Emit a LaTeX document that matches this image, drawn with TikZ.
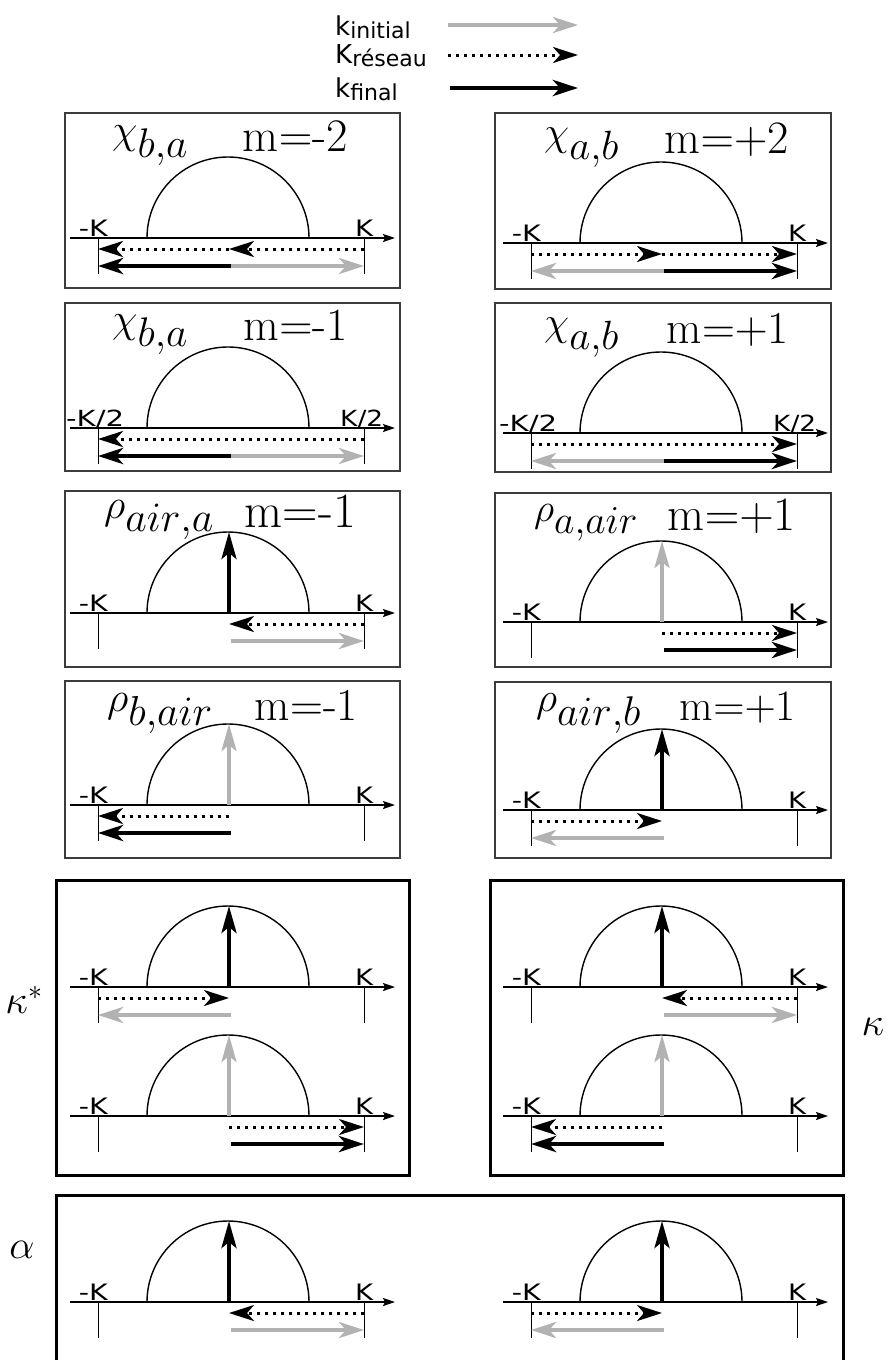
\RequirePackage{fix-cm}
\documentclass[tikz,border=0pt]{standalone}
\usepackage{fontspec}
\newfontfamily\dv{DejaVu Sans}
\usetikzlibrary{arrows.meta}
\definecolor{lg}{RGB}{178,178,178}
\definecolor{boxc}{RGB}{60,60,60}
\newcommand\mneg[1]{$\mathrm{m}{=}\mathchar"002D\mathrm{#1}$}
\newcommand\mpos[1]{$\mathrm{m}{=}{+}\mathrm{#1}$}
\newcommand\tw[2]{\resizebox{#1pt}{!}{#2}}
\newcommand\kb[2]{\resizebox{#1pt}{16.5pt}{#2}}
\newcommand\panelbase{%
  \coordinate (-C) at (0,0);
  \coordinate (-L) at (-131,0); \coordinate (-R) at (135,0);
  \coordinate (-T) at (0,-81);
  \coordinate (-Ld) at (-131,11); \coordinate (-Cd) at (0,11); \coordinate (-Rd) at (135,11);
  \coordinate (-Ls) at (-131,28); \coordinate (-Cs) at (2,28); \coordinate (-Rs) at (135,28);
  \coordinate (-a) at (-159,0); \coordinate (-b) at (166,0);
  \coordinate (-Lb) at (-131,36); \coordinate (-Rb) at (135,36);
  \draw[axisline] (-a) -- (-b);
  \draw[arcsty] (-82,0) arc[start angle=180,end angle=360,radius=81];
  \draw[ticksty] (-L) -- (-Lb);
  \draw[ticksty] (-R) -- (-Rb);
}
\begin{document}
\begin{tikzpicture}[x=1pt,y=-1pt,
  axisline/.style={line width=1.8pt,-{Stealth[length=12pt,width=8pt,inset=2pt]}},
  arcsty/.style={line width=1.4pt},
  ticksty/.style={line width=0.9pt},
  headsty/.style={-{Stealth[length=25pt,width=16pt,inset=7pt]}},
  dotarr/.style={headsty,line width=3pt,dash pattern=on 3pt off 5pt},
  grayarr/.style={headsty,line width=4pt,draw=lg,fill=lg},
  blackarr/.style={headsty,line width=4.5pt},
  vblack/.style={line width=4pt,-{Stealth[length=27pt,width=15pt,inset=6pt]}},
  vgray/.style={line width=3.5pt,draw=lg,fill=lg,-{Stealth[length=27pt,width=15pt,inset=6pt]}},
  thinbox/.style={draw=boxc,line width=1.4pt},
  thickbox/.style={draw=black,line width=3pt},
  klab/.style={font=\dv\fontsize{20}{20}\selectfont,inner sep=0pt},
  ttls/.style={font=\fontsize{24}{24}\selectfont,inner sep=0pt,anchor=base west},
  ttlm/.style={font=\fontsize{24}{24}\selectfont,inner sep=0pt,anchor=base east},
  greek/.style={font=\fontsize{40}{40}\selectfont,inner sep=0pt},
  legtxt/.style={font=\dv\fontsize{26}{26}\selectfont,inner sep=0pt,anchor=base west},
  panelK/.pic={\panelbase
     \node[klab,anchor=base east] (-kl) at (-121,-2) {\kb{29}{-K}};
     \node[klab,anchor=base] (-kr) at (135,-2) {\kb{18}{K}};},
  panelH/.pic={\panelbase
     \node[klab,anchor=base west] (-kl) at (-163,-2) {\kb{58}{-K/2}};
     \node[klab,anchor=base west] (-kr) at (111,-2) {\kb{43}{K/2}};}
]
\useasboundingbox (0,0) rectangle (887,1360);

% legend
\newcommand\sub[1]{\raisebox{-3pt}{\fontsize{22}{22}\selectfont #1}}
\node[legtxt] (l1) at (335,35) {k\sub{initial}};
\node[legtxt] (l2) at (335,63) {K\sub{réseau}};
\node[legtxt] (l3) at (335,97) {k\sub{final}};
\coordinate (g1a) at (448,25); \coordinate (g1b) at (578,25);
\coordinate (g2a) at (448,55); \coordinate (g2b) at (578,55);
\coordinate (g3a) at (450,88); \coordinate (g3b) at (578,88);
\draw[grayarr] (g1a) -- (g1b);
\draw[dotarr] (g2a) -- (g2b);
\draw[blackarr] (g3a) -- (g3b);

% boxes
\draw[thinbox] (65,113) rectangle (400,288);
\draw[thinbox] (65,303) rectangle (400,471);
\draw[thinbox] (65,491) rectangle (400,667);
\draw[thinbox] (65,681) rectangle (400,858);
\draw[thinbox] (495,113) rectangle (831,289);
\draw[thinbox] (495,303) rectangle (831,472);
\draw[thinbox] (495,493) rectangle (831,667);
\draw[thinbox] (495,682) rectangle (831,858);
\draw[thickbox] (56,880) rectangle (409,1175);
\draw[thickbox] (490,880) rectangle (843,1175);
\draw[thickbox] (56,1362) -- (56,1195) -- (843,1195) -- (843,1362);

% titles
\node[ttls] (t1s) at (112,143) {\tw{76}{$\chi_{\textstyle b{,}a}$}};
\node[ttlm] (t1m) at (348,151) {\tw{105}{\mneg{2}}};
\node[ttls] (t2s) at (544,145) {\tw{75}{$\chi_{\textstyle a{,}b}$}};
\node[ttlm] (t2m) at (789,153) {\tw{124}{\mpos{2}}};
\node[ttls] (t3s) at (112,332) {\tw{76}{$\chi_{\textstyle b{,}a}$}};
\node[ttlm] (t3m) at (348,340) {\tw{104}{\mneg{1}}};
\node[ttls] (t4s) at (544,335) {\tw{75}{$\chi_{\textstyle a{,}b}$}};
\node[ttlm] (t4m) at (789,343) {\tw{122}{\mpos{1}}};
\node[ttls] (t5s) at (104,518) {\tw{110}{$\rho_{\textstyle air{,}a}$}};
\node[ttlm] (t5m) at (356,527) {\tw{111}{\mneg{1}}};
\node[ttls] (t6s) at (534,521) {\tw{104}{$\rho_{\textstyle a{,}air}$}};
\node[ttlm] (t6m) at (796,530) {\tw{128}{\mpos{1}}};
\node[ttls] (t7s) at (107,711) {\tw{106}{$\rho_{\textstyle b{,}air}$}};
\node[ttlm] (t7m) at (358,720) {\tw{103}{\mneg{1}}};
\node[ttls] (t8s) at (536,711) {\tw{105}{$\rho_{\textstyle air{,}b}$}};
\node[ttlm] (t8m) at (796,720) {\tw{116}{\mpos{1}}};

% greek side labels
\node[greek] (kst) at (24,1000) {$\kappa^*$};
\node[greek] (kap) at (873,1027) {$\kappa$};
\node[greek] (alp) at (22,1250) {$\alpha$};

% panels
\pic (p1) at (229,238) {panelK};
\draw[dotarr] (p1-Rd) -- (p1-Cd);
\draw[dotarr] (p1-Cd) -- (p1-Ld);
\draw[blackarr] (p1-Cs) -- (p1-Ls);
\draw[grayarr] (p1-Cs) -- (p1-Rs);

\pic (p2) at (662,243) {panelK};
\draw[dotarr] (p2-Ld) -- (p2-Cd);
\draw[dotarr] (p2-Cd) -- (p2-Rd);
\draw[grayarr] (p2-Cs) -- (p2-Ls);
\draw[blackarr] (p2-Cs) -- (p2-Rs);

\pic (p3) at (229,428) {panelH};
\draw[dotarr] (p3-Rd) -- (p3-Ld);
\draw[blackarr] (p3-Cs) -- (p3-Ls);
\draw[grayarr] (p3-Cs) -- (p3-Rs);

\pic (p4) at (662,433) {panelH};
\draw[dotarr] (p4-Ld) -- (p4-Rd);
\draw[grayarr] (p4-Cs) -- (p4-Ls);
\draw[blackarr] (p4-Cs) -- (p4-Rs);

\pic (p5) at (229,613) {panelK};
\draw[vblack] (p5-C) -- (p5-T);
\draw[dotarr] (p5-Rd) -- (p5-Cd);
\draw[grayarr] (p5-Cs) -- (p5-Rs);

\pic (p6) at (662,622) {panelK};
\draw[vgray] (p6-C) -- (p6-T);
\draw[dotarr] (p6-Cd) -- (p6-Rd);
\draw[blackarr] (p6-Cs) -- (p6-Rs);

\pic (p7) at (229,805) {panelK};
\draw[vgray] (p7-C) -- (p7-T);
\draw[dotarr] (p7-Cd) -- (p7-Ld);
\draw[blackarr] (p7-Cs) -- (p7-Ls);

\pic (p8) at (662,810) {panelK};
\draw[vblack] (p8-C) -- (p8-T);
\draw[dotarr] (p8-Ld) -- (p8-Cd);
\draw[grayarr] (p8-Cs) -- (p8-Ls);

\pic (p9) at (229,987) {panelK};
\draw[vblack] (p9-C) -- (p9-T);
\draw[dotarr] (p9-Ld) -- (p9-Cd);
\draw[grayarr] (p9-Cs) -- (p9-Ls);

\pic (p10) at (229,1116) {panelK};
\draw[vgray] (p10-C) -- (p10-T);
\draw[dotarr] (p10-Cd) -- (p10-Rd);
\draw[blackarr] (p10-Cs) -- (p10-Rs);

\pic (p11) at (662,987) {panelK};
\draw[vblack] (p11-C) -- (p11-T);
\draw[dotarr] (p11-Rd) -- (p11-Cd);
\draw[grayarr] (p11-Cs) -- (p11-Rs);

\pic (p12) at (662,1116) {panelK};
\draw[vgray] (p12-C) -- (p12-T);
\draw[dotarr] (p12-Cd) -- (p12-Ld);
\draw[blackarr] (p12-Cs) -- (p12-Ls);

\pic (p13) at (229,1302) {panelK};
\draw[vblack] (p13-C) -- (p13-T);
\draw[dotarr] (p13-Rd) -- (p13-Cd);
\draw[grayarr] (p13-Cs) -- (p13-Rs);

\pic (p14) at (662,1302) {panelK};
\draw[vblack] (p14-C) -- (p14-T);
\draw[dotarr] (p14-Ld) -- (p14-Cd);
\draw[grayarr] (p14-Cs) -- (p14-Ls);
\end{tikzpicture}
\end{document}
